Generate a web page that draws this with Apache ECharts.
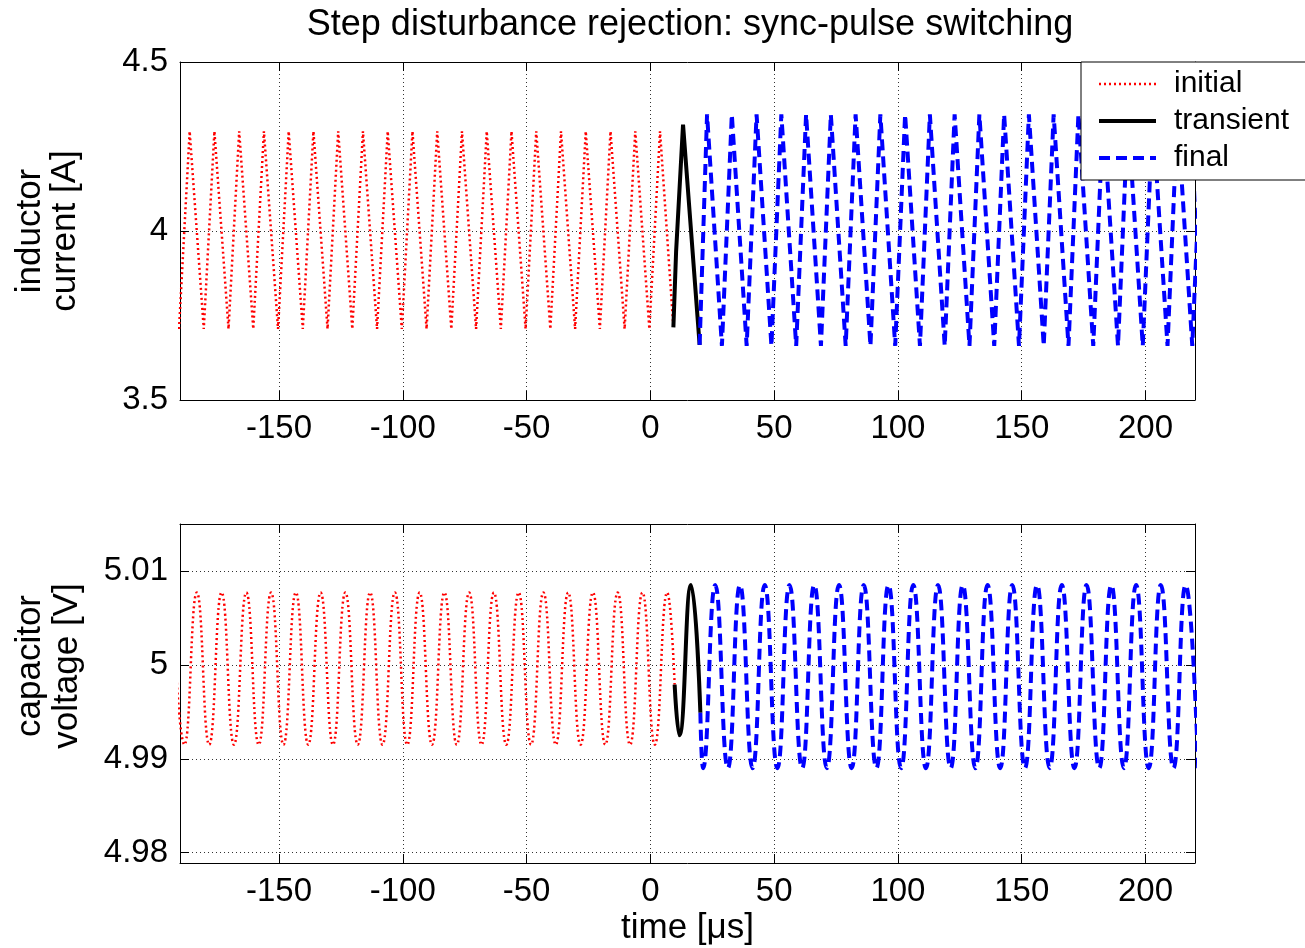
<!DOCTYPE html>
<html>
<head>
<meta charset="utf-8">
<title>Step disturbance rejection: sync-pulse switching</title>
<script src="https://cdn.jsdelivr.net/npm/echarts@6/dist/echarts.min.js"></script>
<style>
  html, body { margin: 0; padding: 0; background: #fff; }
  #main { width: 1305px; height: 948px; }
</style>
</head>
<body>
<div id="main"></div>
<script>
// values (time in us)

// inductor current [A] - corners of the triangle wave
const currInitT = [-190.4, -186.1, -180.4, -176.1, -170.4, -166.1, -160.4, -156.1, -150.4, -146.1,
  -140.4, -136.1, -130.4, -126.1, -120.4, -116.1, -110.4, -106.1, -100.4, -96.1,
  -90.4, -86.1, -80.4, -76.1, -70.4, -66.1, -60.4, -56.1, -50.4, -46.1,
  -40.4, -36.1, -30.4, -26.1, -20.4, -16.1, -10.4, -6.1, -0.4, 3.9, 9.3];
const currInitV = [3.71, 4.295, 3.71, 4.295, 3.71, 4.295, 3.71, 4.295, 3.71, 4.295,
  3.71, 4.295, 3.71, 4.295, 3.71, 4.295, 3.71, 4.295, 3.71, 4.295,
  3.71, 4.295, 3.71, 4.295, 3.71, 4.295, 3.71, 4.295, 3.71, 4.295,
  3.71, 4.295, 3.71, 4.295, 3.71, 4.295, 3.71, 4.295, 3.71, 4.295, 3.715];

const currTranT = [9.3, 10.4, 11.2, 13.2, 19.9];
const currTranV = [3.715, 3.94, 3.935, 4.315, 3.663];

const currFinT = [19.9, 22.9, 28.9, 32.9, 38.9, 42.9, 48.9, 52.9, 58.9, 62.9,
  68.9, 72.9, 78.9, 82.9, 88.9, 92.9, 98.9, 102.9, 108.9, 112.9,
  118.9, 122.9, 128.9, 132.9, 138.9, 142.9, 148.9, 152.9, 158.9, 162.9,
  168.9, 172.9, 178.9, 182.9, 188.9, 192.9, 198.9, 202.9, 208.9, 212.9, 218.9, 222.9];
const currFinV = [3.663, 4.345, 3.66, 4.345, 3.66, 4.345, 3.66, 4.345, 3.66, 4.345,
  3.66, 4.345, 3.66, 4.345, 3.66, 4.345, 3.66, 4.345, 3.66, 4.345,
  3.66, 4.345, 3.66, 4.345, 3.66, 4.345, 3.66, 4.345, 3.66, 4.345,
  3.66, 4.345, 3.66, 4.345, 3.66, 4.345, 3.66, 4.345, 3.66, 4.345, 3.66, 4.345];

// capacitor voltage [V] - peaks and troughs of the ripple
const voltInitT = [-193.2, -188.2, -183.2, -178.2, -173.2, -168.2, -163.2, -158.2, -153.2, -148.2,
  -143.2, -138.2, -133.2, -128.2, -123.2, -118.2, -113.2, -108.2, -103.2, -98.2,
  -93.2, -88.2, -83.2, -78.2, -73.2, -68.2, -63.2, -58.2, -53.2, -48.2,
  -43.2, -38.2, -33.2, -28.2, -23.2, -18.2, -13.2, -8.2, -3.2, 1.8, 6.8, 9.8];
const voltInitV = [5.0077, 4.9915, 5.0077, 4.9915, 5.0077, 4.9915, 5.0077, 4.9915, 5.0077, 4.9915,
  5.0077, 4.9915, 5.0077, 4.9915, 5.0077, 4.9915, 5.0077, 4.9915, 5.0077, 4.9915,
  5.0077, 4.9915, 5.0077, 4.9915, 5.0077, 4.9915, 5.0077, 4.9915, 5.0077, 4.9915,
  5.0077, 4.9915, 5.0077, 4.9915, 5.0077, 4.9915, 5.0077, 4.9915, 5.0077, 4.9915, 5.0077, 4.9979];

const voltTranT = [9.8, 11.7, 16.4, 20.2];
const voltTranV = [4.9979, 4.9925, 5.0085, 4.9949];

const voltFinT = [20.2, 21.3, 26.2, 31.3, 36.2, 41.3, 46.2, 51.3, 56.2, 61.3,
  66.2, 71.3, 76.2, 81.3, 86.2, 91.3, 96.2, 101.3, 106.2, 111.3,
  116.2, 121.3, 126.2, 131.3, 136.2, 141.3, 146.2, 151.3, 156.2, 161.3,
  166.2, 171.3, 176.2, 181.3, 186.2, 191.3, 196.2, 201.3, 206.2, 211.3, 216.2, 221.3];
const voltFinV = [4.9949, 4.989, 5.0085, 4.989, 5.0085, 4.989, 5.0085, 4.989, 5.0085, 4.989,
  5.0085, 4.989, 5.0085, 4.989, 5.0085, 4.989, 5.0085, 4.989, 5.0085, 4.989,
  5.0085, 4.989, 5.0085, 4.989, 5.0085, 4.989, 5.0085, 4.989, 5.0085, 4.989,
  5.0085, 4.989, 5.0085, 4.989, 5.0085, 4.989, 5.0085, 4.989, 5.0085, 4.989, 5.0085, 4.989];

const legendNames = ['initial', 'transient', 'final'];

const FONT = '"Liberation Sans", Arial, Helvetica, sans-serif';
const xMin = -190, xMax = 220;

function pairs(ts, vs) {
  return ts.map(function (t, i) { return [t, vs[i]]; });
}

const gridDots = { color: '#333', width: 1, type: [1, 3] };
const tick = { show: true, inside: true, length: 9, lineStyle: { color: '#000' } };
const line = { show: true, onZero: false, lineStyle: { color: '#000', width: 1 } };

function xAxes(gridIndex) {
  return [
    {
      type: 'value', gridIndex: gridIndex, min: xMin, max: xMax, splitNumber: 8,
      axisLine: line, axisTick: tick,
      axisLabel: { fontSize: 33, color: '#000', fontFamily: FONT, margin: 12,
        showMinLabel: false, showMaxLabel: false },
      splitLine: { show: true, lineStyle: gridDots }
    },
    {
      type: 'value', gridIndex: gridIndex, position: 'top', min: xMin, max: xMax, splitNumber: 8,
      axisLine: line, axisTick: tick, axisLabel: { show: false }, splitLine: { show: false }
    }
  ];
}

function yAxes(gridIndex, range, hideEnds) {
  return [
    Object.assign({
      type: 'value', gridIndex: gridIndex, position: 'left',
      axisLine: line, axisTick: tick,
      axisLabel: { fontSize: 33, color: '#000', fontFamily: FONT, margin: 12,
        showMinLabel: !hideEnds, showMaxLabel: !hideEnds },
      splitLine: { show: true, lineStyle: gridDots }
    }, range),
    Object.assign({
      type: 'value', gridIndex: gridIndex, position: 'right',
      axisLine: line, axisTick: tick, axisLabel: { show: false }, splitLine: { show: false }
    }, range)
  ];
}

const styles = {
  initial: { color: '#ff0000', width: 2.5, type: [2, 3] },
  transient: { color: '#000000', width: 4, type: 'solid' },
  final: { color: '#0000ff', width: 4, type: [11, 6] }
};

function series(name, data, axisIndex, smooth) {
  return {
    name: name, type: 'line', data: data,
    xAxisIndex: axisIndex, yAxisIndex: axisIndex,
    showSymbol: false, symbol: 'none', smooth: smooth, clip: true,
    lineStyle: styles[name], itemStyle: { color: styles[name].color },
    emphasis: { disabled: true }
  };
}

const chart = echarts.init(document.getElementById('main'), null, { renderer: 'canvas' });

const xTop = xAxes(0), xBot = xAxes(1);
xBot[0].name = 'time [\u03bcs]';
xBot[0].nameLocation = 'middle';
xBot[0].nameGap = 48;
xBot[0].nameTextStyle = { fontSize: 35, color: '#000', fontFamily: FONT };

const option = {
  animation: false,
  backgroundColor: '#ffffff',
  title: {
    text: 'Step disturbance rejection: sync-pulse switching',
    left: 685, top: 2, textAlign: 'center',
    textStyle: { fontSize: 36, fontWeight: 'normal', color: '#000', fontFamily: FONT }
  },
  grid: [
    { left: 180, top: 62, width: 1015, height: 338 },
    { left: 180, top: 524, width: 1015, height: 339 }
  ],
  xAxis: xTop.concat(xBot),
  yAxis: yAxes(0, { min: 3.5, max: 4.5, interval: 0.5 }, false)
    .concat(yAxes(1, { min: 4.9789, max: 5.015, splitNumber: 4 }, true)),
  legend: {
    data: legendNames,
    orient: 'vertical', left: 1081, top: 62,
    itemWidth: 57, itemHeight: 14, itemGap: 7,
    padding: [7, 40, 7, 16],
    backgroundColor: '#fff', borderColor: '#000', borderWidth: 1, borderRadius: 0,
    selectedMode: false,
    itemStyle: { opacity: 0 },
    lineStyle: { width: 'inherit' },
    textStyle: { fontSize: 30, color: '#000', fontFamily: FONT, lineHeight: 30, padding: [0, 0, 0, 13] }
  },
  graphic: [
    {
      type: 'text', x: 48, y: 231, rotation: Math.PI / 2,
      style: { text: 'inductor\ncurrent [A]', fontSize: 35, fontFamily: FONT, fill: '#000',
        align: 'center', verticalAlign: 'middle', lineHeight: 35 }
    },
    {
      type: 'text', x: 49, y: 666, rotation: Math.PI / 2,
      style: { text: 'capacitor\nvoltage [V]', fontSize: 35, fontFamily: FONT, fill: '#000',
        align: 'center', verticalAlign: 'middle', lineHeight: 37 }
    }
  ],
  series: [
    series('initial', pairs(currInitT, currInitV), 0, false),
    series('transient', pairs(currTranT, currTranV), 0, false),
    series('final', pairs(currFinT, currFinV), 0, false),
    series('initial', pairs(voltInitT, voltInitV), 2, true),
    series('transient', pairs(voltTranT, voltTranV), 2, true),
    series('final', pairs(voltFinT, voltFinV), 2, true)
  ]
};

chart.setOption(option);
</script>
</body>
</html>
